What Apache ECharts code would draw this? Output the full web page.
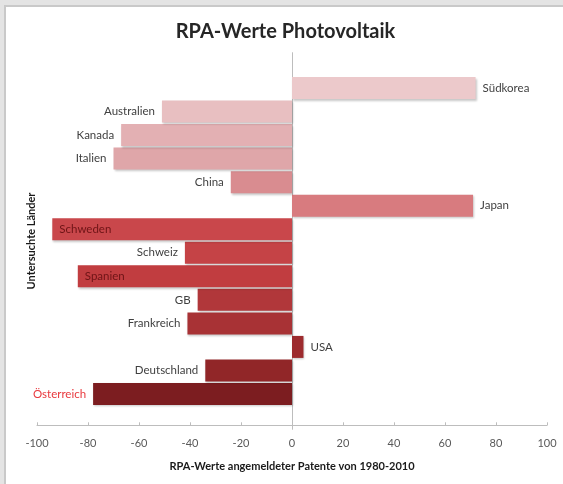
<!DOCTYPE html>
<html>
<head>
<meta charset="utf-8">
<script src="https://cdn.jsdelivr.net/npm/echarts@6/dist/echarts.min.js"></script>
<style>
  html, body { margin: 0; padding: 0; background: #e4e4e4; }
  #frame {
    position: absolute; left: 4px; top: 5px; width: 559px; height: 479px;
    background: #ffffff; border-left: 2px solid #c9c9c9; border-top: 2px solid #c9c9c9;
  }
  #chart { width: 559px; height: 479px; }
</style>
</head>
<body>
<div id="frame"><div id="chart"></div></div>
<script>
// Countries, listed top to bottom as drawn
const countries = ['Südkorea', 'Australien', 'Kanada', 'Italien', 'China', 'Japan',
  'Schweden', 'Schweiz', 'Spanien', 'GB', 'Frankreich', 'USA', 'Deutschland', 'Österreich'];
// RPA values (patent applications 1980-2010)
const rpaValues = [72, -51, -67, -70, -24, 71, -94, -42, -84, -37, -41, 4.5, -34, -78];
// Fill colours, light pink to dark red
const barColors = ['#ecc9cb', '#e8bfc1', '#e3b0b3', '#dfa6a9', '#d98c90', '#d87b7f',
  '#c9474b', '#c54346', '#c13d40', '#b1373a', '#a83235', '#9d2b2e', '#912628', '#7c1d20'];
// Countries whose labels sit inside the bar
const insideLabels = ['Schweden', 'Spanien'];
const highlighted = 'Österreich';
const xTicks = { min: -100, max: 100, step: 20 };

// Category axis runs bottom-up, with a blank slot at each end
const cats = [''].concat(countries.slice().reverse(), ['']);
const vals = [null].concat(rpaValues.slice().reverse(), [null]);
const cols = [null].concat(barColors.slice().reverse(), [null]);

const data = cats.map((name, i) => {
  if (vals[i] === null) return { value: null };
  const v = vals[i];
  const inside = insideLabels.includes(name);
  return {
    value: v,
    itemStyle: { color: cols[i] },
    label: {
      position: inside ? 'insideLeft' : (v < 0 ? 'left' : 'right'),
      distance: 7,
      color: inside ? '#6e1416' : (name === highlighted ? '#e8383d' : '#404040')
    }
  };
});

const chart = echarts.init(document.getElementById('chart'), null, { renderer: 'canvas' });
chart.setOption({
  animation: false,
  textStyle: { fontFamily: 'Lato' },
  title: {
    text: 'RPA-Werte Photovoltaik',
    left: 'center',
    top: 10,
    textStyle: { fontFamily: 'Lato', fontWeight: 'bold', fontSize: 20, color: '#262626' }
  },
  grid: { left: 31, right: 18, top: 45.7, height: 376.6, containLabel: false },
  xAxis: {
    type: 'value',
    min: xTicks.min, max: xTicks.max, interval: xTicks.step,
    offset: -4,
    axisLine: { show: true, lineStyle: { color: '#bdbdbd', width: 1 } },
    axisTick: { show: true, inside: true, length: 3, lineStyle: { color: '#bdbdbd' } },
    splitLine: { show: false },
    axisLabel: { color: '#595959', fontSize: 11, margin: 13, fontFamily: 'Lato' },
    name: 'RPA-Werte angemeldeter Patente von 1980-2010',
    nameLocation: 'middle',
    nameGap: 36,
    nameTextStyle: { fontWeight: 'bold', fontSize: 11, color: '#1a1a1a', fontFamily: 'Lato' }
  },
  yAxis: [
    {
      type: 'category',
      data: cats,
      position: 'left',
      axisLine: { show: false, onZero: false },
      axisTick: { show: false },
      axisLabel: { show: false },
      name: 'Untersuchte Länder',
      nameLocation: 'middle',
      nameRotate: 90,
      nameGap: 0,
      nameTextStyle: { fontWeight: 'bold', fontSize: 11, color: '#1a1a1a', fontFamily: 'Lato' }
    },
    {
      type: 'category',
      data: cats,
      position: 'left',
      axisLine: { show: true, onZero: true, lineStyle: { color: '#bdbdbd', width: 1 } },
      axisTick: { show: false },
      axisLabel: { show: false }
    }
  ],
  series: [{
    type: 'bar',
    yAxisIndex: 1,
    data: data,
    barWidth: 22,
    label: { show: true, formatter: '{b}', fontSize: 11.5, fontFamily: 'Lato' },
    itemStyle: {
      shadowColor: 'rgba(0,0,0,0.22)',
      shadowBlur: 2,
      shadowOffsetX: 1,
      shadowOffsetY: 1.5
    }
  }]
});
</script>
</body>
</html>
